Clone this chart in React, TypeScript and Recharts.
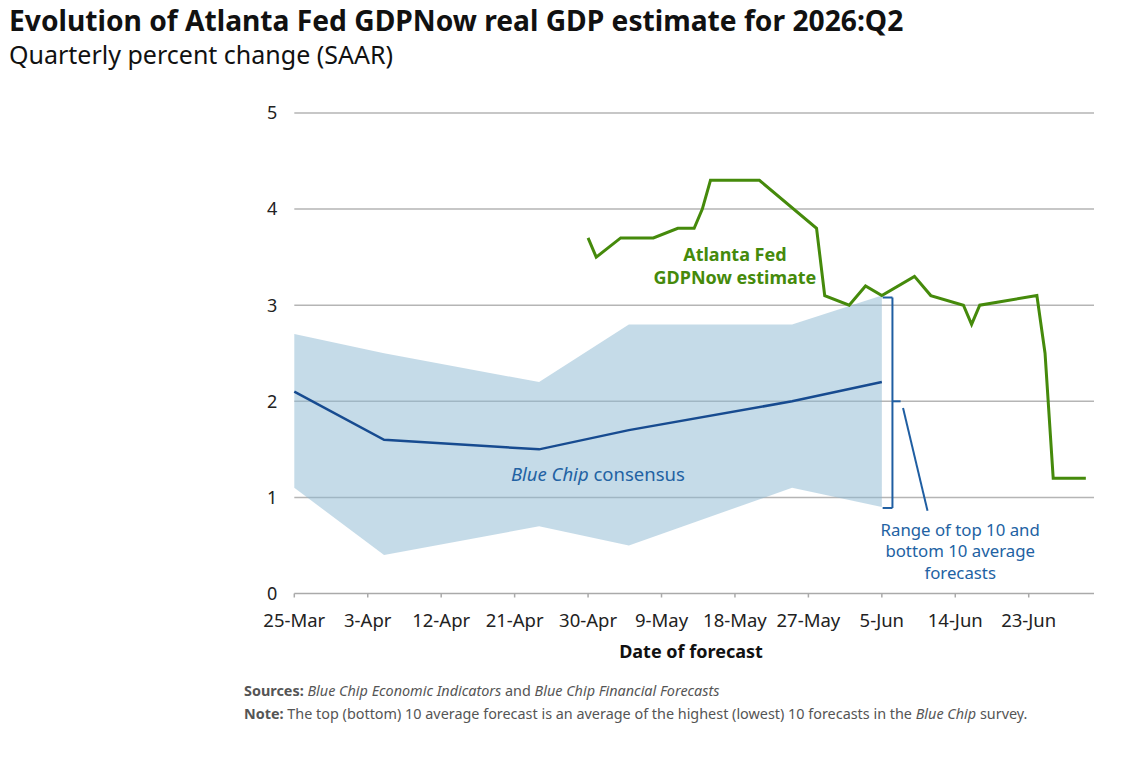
import React from "react";
import {
  ComposedChart,
  Line,
  Area,
  XAxis,
  YAxis,
  CartesianGrid,
  ReferenceLine,
  ReferenceDot,
} from "recharts";

// x values are days since 25-Mar
const tickDays = [0, 9, 18, 27, 36, 45, 54, 63, 72, 81, 90];
const tickLabels = [
  "25-Mar",
  "3-Apr",
  "12-Apr",
  "21-Apr",
  "30-Apr",
  "9-May",
  "18-May",
  "27-May",
  "5-Jun",
  "14-Jun",
  "23-Jun",
];
const yTicks = [0, 1, 2, 3, 4, 5];

const blueChipDays = [0, 11, 30, 41, 61, 72];
const blueChipConsensus = [2.1, 1.6, 1.5, 1.7, 2.0, 2.2];
const blueChipTop = [2.7, 2.5, 2.2, 2.8, 2.8, 3.1];
const blueChipBottom = [1.1, 0.4, 0.7, 0.5, 1.1, 0.9];

const gdpNowDays = [
  36, 37, 40, 44, 47, 49, 50, 51, 57, 64, 65, 68, 70, 72, 76, 78, 82, 83, 84,
  91, 92, 93, 97,
];
const gdpNowValues = [
  3.7, 3.5, 3.7, 3.7, 3.8, 3.8, 4.0, 4.3, 4.3, 3.8, 3.1, 3.0, 3.2, 3.1, 3.3,
  3.1, 3.0, 2.8, 3.0, 3.1, 2.5, 1.2, 1.2,
];

// bracket and leader for the range note, in data units
const bracketSegments = [
  [{ x: 73.3, y: 3.08 }, { x: 73.3, y: 0.89 }],
  [{ x: 72.1, y: 3.08 }, { x: 73.3, y: 3.08 }],
  [{ x: 72.1, y: 0.89 }, { x: 73.3, y: 0.89 }],
  [{ x: 73.3, y: 2.0 }, { x: 74.3, y: 2.0 }],
  [{ x: 74.6, y: 1.93 }, { x: 77.6, y: 0.86 }],
];

const bandData = blueChipDays.map((d, i) => ({
  day: d,
  band: [blueChipBottom[i], blueChipTop[i]],
}));
const consensusData = blueChipDays.map((d, i) => ({
  day: d,
  value: blueChipConsensus[i],
}));
const gdpNowData = gdpNowDays.map((d, i) => ({ day: d, value: gdpNowValues[i] }));

const FONT = "'Noto Sans', 'Open Sans', sans-serif";
const GREEN = "#458a0b";
const NAVY = "#174b90";
const BLUE_TEXT = "#2262a3";

const multiLine =
  (lines: string[], color: string, size: number, weight: number, gap: number) =>
  (props: any) => {
    const { viewBox } = props;
    const cx = viewBox.x + (viewBox.width || 0) / 2;
    const cy = viewBox.y + (viewBox.height || 0) / 2;
    const start = cy - ((lines.length - 1) * gap) / 2;
    return (
      <text
        x={cx}
        y={start}
        textAnchor="middle"
        dominantBaseline="central"
        fill={color}
        fontSize={size}
        fontWeight={weight}
        fontFamily={FONT}
      >
        {lines.map((l, i) => (
          <tspan key={i} x={cx} y={start + i * gap} dominantBaseline="central">
            {l}
          </tspan>
        ))}
      </text>
    );
  };

const consensusLabel = (props: any) => {
  const { viewBox } = props;
  const cx = viewBox.x + (viewBox.width || 0) / 2;
  const cy = viewBox.y + (viewBox.height || 0) / 2;
  return (
    <text
      x={cx}
      y={cy}
      textAnchor="middle"
      dominantBaseline="central"
      fill={BLUE_TEXT}
      fontSize={18.5}
      fontFamily={FONT}
    >
      <tspan fontStyle="italic">Blue Chip</tspan>
      <tspan> consensus</tspan>
    </text>
  );
};

export default function App() {
  return (
    <div
      style={{
        position: "absolute",
        left: 0,
        top: 0,
        width: 1142,
        height: 758,
        background: "#fff",
        fontFamily: FONT,
      }}
    >
      <div
        style={{
          position: "absolute",
          left: 9,
          top: 1,
          fontSize: 28.2,
          fontWeight: 700,
          color: "#111",
          whiteSpace: "nowrap",
        }}
      >
        Evolution of Atlanta Fed GDPNow real GDP estimate for 2026:Q2
      </div>
      <div
        style={{
          position: "absolute",
          left: 9,
          top: 37,
          fontSize: 25,
          color: "#111",
          whiteSpace: "nowrap",
        }}
      >
        Quarterly percent change (SAAR)
      </div>

      <ComposedChart
        width={1142}
        height={758}
        margin={{ top: 113, right: 48, bottom: 104.5, left: 234.3 }}
        style={{ position: "absolute", left: 0, top: 0 }}
      >
        <CartesianGrid
          vertical={false}
          stroke="#b5b5b5"
          strokeWidth={1.5}
          horizontalValues={[1, 2, 3, 4, 5]}
        />
        <XAxis
          type="number"
          dataKey="day"
          domain={[0, 98]}
          ticks={tickDays}
          tickFormatter={(v: number) => tickLabels[tickDays.indexOf(v)] ?? ""}
          allowDuplicatedCategory={false}
          height={60}
          axisLine={{ stroke: "#aaa", strokeWidth: 1.5 }}
          tickLine={{ stroke: "#aaa", strokeWidth: 1.5 }}
          tickSize={4}
          tickMargin={16}
          tick={{ fill: "#222", fontSize: 18.5, fontFamily: FONT }}
          interval={0}
        />
        <YAxis
          type="number"
          domain={[0, 5]}
          ticks={yTicks}
          width={60}
          axisLine={false}
          tickLine={false}
          tickSize={0}
          tickMargin={17}
          tick={{ fill: "#222", fontSize: 18, fontFamily: FONT }}
        />
        <Area
          data={bandData}
          dataKey="band"
          type="linear"
          stroke="none"
          fill="#8bb7d1"
          fillOpacity={0.5}
          isAnimationActive={false}
        />
        <Line
          data={consensusData}
          dataKey="value"
          type="linear"
          stroke={NAVY}
          strokeWidth={2.5}
          dot={false}
          activeDot={false}
          isAnimationActive={false}
        />
        <Line
          data={gdpNowData}
          dataKey="value"
          type="linear"
          stroke={GREEN}
          strokeWidth={3}
          dot={false}
          activeDot={false}
          isAnimationActive={false}
        />
        {bracketSegments.map((seg, i) => (
          <ReferenceLine
            key={i}
            segment={seg}
            stroke="#1f5ea2"
            strokeWidth={2}
            ifOverflow="visible"
          />
        ))}
        <ReferenceDot
          x={54}
          y={3.41}
          r={0}
          ifOverflow="visible"
          label={multiLine(["Atlanta Fed", "GDPNow estimate"], GREEN, 18, 700, 23)}
        />
        <ReferenceDot
          x={37.2}
          y={1.255}
          r={0}
          ifOverflow="visible"
          label={consensusLabel}
        />
        <ReferenceDot
          x={81.6}
          y={0.45}
          r={0}
          ifOverflow="visible"
          label={multiLine(
            ["Range of top 10 and", "bottom 10 average", "forecasts"],
            BLUE_TEXT,
            16.8,
            400,
            21.5
          )}
        />
      </ComposedChart>

      <div
        style={{
          position: "absolute",
          left: 691,
          top: 639,
          transform: "translateX(-50%)",
          fontSize: 18,
          fontWeight: 700,
          color: "#111",
          whiteSpace: "nowrap",
        }}
      >
        Date of forecast
      </div>
      <div
        style={{
          position: "absolute",
          left: 244,
          top: 679,
          fontSize: 14.4,
          color: "#555",
          lineHeight: "23px",
          whiteSpace: "nowrap",
        }}
      >
        <div>
          <b>Sources:</b> <i>Blue Chip Economic Indicators</i> and{" "}
          <i>Blue Chip Financial Forecasts</i>
        </div>
        <div>
          <b>Note:</b> The top (bottom) 10 average forecast is an average of the
          highest (lowest) 10 forecasts in the <i>Blue Chip</i> survey.
        </div>
      </div>
    </div>
  );
}
